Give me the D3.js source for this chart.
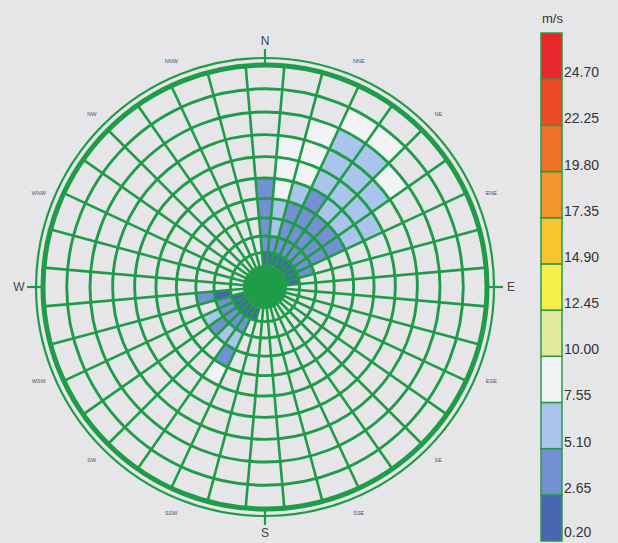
<!DOCTYPE html>
<html>
<head>
<meta charset="utf-8">
<script src="https://cdn.jsdelivr.net/npm/d3@7"></script>
<style>
  body { margin: 0; background: #e8e8ea; }
  svg { display: block; font-family: "Liberation Sans", Arial, sans-serif; }
</style>
</head>
<body>
<div class="rose"></div>
<script>
const speedBreaks = [0.20, 2.65, 5.10, 7.55, 10.00, 12.45, 14.90, 17.35, 19.80, 22.25, 24.70];
const speedColors = ["#4865ae", "#7391d2", "#a9c5eb", "#f2f3f5", "#e1e99c", "#f6ee4b",
                     "#f8c42f", "#f2952b", "#ee7226", "#ea4b26", "#e6272b"];
const majorDirs = ["N", "E", "S", "W"];
const minorDirs = ["NNE", "NE", "ENE", "ESE", "SE", "SSE", "SSW", "SW", "WSW", "WNW", "NW", "NNW"];

// one entry per coloured cell: direction (deg), ring index, mean speed (m/s)
const cellDir = [
  0, 0, 0, 0, 0,
  10, 10, 10, 10, 10, 10, 10,
  20, 20, 20, 20, 20, 20, 20, 20,
  30, 30, 30, 30, 30, 30, 30, 30, 30,
  40, 40, 40, 40, 40, 40, 40, 40, 40,
  50, 50, 50, 50, 50, 50, 50, 50,
  60, 60, 60, 60, 60, 60,
  70, 70, 80,
  200, 210, 210, 210, 210, 210,
  220, 220, 220, 230, 230, 230,
  240, 240, 240, 250, 250, 260, 260
];
const cellRing = [
  0, 1, 2, 3, 4,
  0, 1, 2, 3, 4, 5, 6,
  0, 1, 2, 3, 4, 5, 6, 7,
  0, 1, 2, 3, 4, 5, 6, 7, 8,
  0, 1, 2, 3, 4, 5, 6, 7, 8,
  0, 1, 2, 3, 4, 5, 6, 7,
  0, 1, 2, 3, 4, 5,
  0, 1, 0,
  0, 0, 1, 2, 3, 4,
  0, 1, 2, 0, 1, 2,
  0, 1, 2, 0, 1, 1, 2
];
const cellSpeed = [
  1.8, 3.6, 3.9, 4.2, 4.6,
  2.0, 4.0, 5.6, 6.0, 8.2, 8.5, 8.0,
  2.0, 3.5, 3.8, 4.0, 6.0, 8.2, 8.6, 9.0,
  2.2, 3.6, 4.2, 4.4, 4.8, 6.0, 6.3, 6.5, 8.0,
  2.0, 3.4, 4.0, 4.5, 5.5, 6.2, 6.8, 7.0, 8.0,
  1.8, 3.3, 3.9, 4.3, 5.8, 6.4, 6.6, 8.4,
  1.5, 3.0, 3.6, 4.0, 6.0, 6.2,
  1.2, 2.9, 1.0,
  1.5, 2.0, 3.5, 6.0, 4.0, 8.0,
  2.1, 3.2, 5.5, 2.4, 3.8, 4.0,
  2.0, 3.4, 5.8, 1.6, 2.8, 2.5, 3.0
];

const width = 618, height = 543;
const cx = 265, cy = 287;
const green = "#1f9c48";
const rad = d => d * Math.PI / 180;

const cells = cellDir.map((d, i) => ({dir: d, ring: cellRing[i], speed: cellSpeed[i]}));

const color = d3.scaleThreshold()
  .domain(speedBreaks.slice(1))
  .range(speedColors);

const ringScale = d3.scalePow().exponent(1.2)
  .domain([0, 10])
  .range([22, 222]);

const svg = d3.select(".rose")
  .append("svg")
  .attr("width", width)
  .attr("height", height);

// paper-like background
const paper = svg.append("defs").append("filter")
  .attr("id", "paper")
  .attr("x", 0).attr("y", 0).attr("width", "100%").attr("height", "100%");
paper.append("feTurbulence")
  .attr("type", "fractalNoise")
  .attr("baseFrequency", 0.6)
  .attr("numOctaves", 2)
  .attr("seed", 3);
paper.append("feColorMatrix")
  .attr("type", "matrix")
  .attr("values", "0 0 0 0 0.5  0 0 0 0 0.5  0 0 0 0 0.52  0 0 0 0.12 0");

svg.append("rect")
  .attr("width", width)
  .attr("height", height)
  .attr("fill", "#e9e9eb");
svg.append("rect")
  .attr("width", width)
  .attr("height", height)
  .attr("filter", "url(#paper)");

const g = svg.append("g")
  .attr("transform", "translate(" + cx + "," + cy + ")");

const cellArc = d3.arc()
  .innerRadius(d => ringScale(d.ring))
  .outerRadius(d => ringScale(d.ring + 1))
  .startAngle(d => rad(d.dir - 5))
  .endAngle(d => rad(d.dir + 5));

g.selectAll("path.cell")
  .data(cells)
  .enter()
  .append("path")
  .attr("class", "cell")
  .attr("d", cellArc)
  .attr("fill", d => color(d.speed));

// grid rings
g.selectAll("circle.ring")
  .data(d3.range(1, 10))
  .enter()
  .append("circle")
  .attr("class", "ring")
  .attr("r", d => ringScale(d))
  .attr("fill", "none")
  .attr("stroke", green)
  .attr("stroke-width", 2.9);

// spokes every 10 degrees, offset half a sector
g.selectAll("line.spoke")
  .data(d3.range(36).map(i => i * 10 + 5))
  .enter()
  .append("line")
  .attr("class", "spoke")
  .attr("x1", 0).attr("y1", 0)
  .attr("x2", d => ringScale(10) * Math.sin(rad(d)))
  .attr("y2", d => -ringScale(10) * Math.cos(rad(d)))
  .attr("stroke", green)
  .attr("stroke-width", 2.6);

g.append("circle")
  .attr("r", ringScale(0))
  .attr("fill", green);

g.append("circle")
  .attr("r", ringScale(10))
  .attr("fill", "none")
  .attr("stroke", green)
  .attr("stroke-width", 5);

g.append("circle")
  .attr("r", ringScale(10) + 7)
  .attr("fill", "none")
  .attr("stroke", green)
  .attr("stroke-width", 2.2);

// compass ticks and labels
g.selectAll("line.tick")
  .data(majorDirs)
  .enter()
  .append("line")
  .attr("class", "tick")
  .attr("x1", (d, i) => ringScale(10) * Math.sin(rad(i * 90)))
  .attr("y1", (d, i) => -ringScale(10) * Math.cos(rad(i * 90)))
  .attr("x2", (d, i) => (ringScale(10) + 16) * Math.sin(rad(i * 90)))
  .attr("y2", (d, i) => -(ringScale(10) + 16) * Math.cos(rad(i * 90)))
  .attr("stroke", green)
  .attr("stroke-width", 2.2);

g.selectAll("text.major")
  .data(majorDirs)
  .enter()
  .append("text")
  .attr("class", "major")
  .attr("x", (d, i) => 246 * Math.sin(rad(i * 90)))
  .attr("y", (d, i) => -246 * Math.cos(rad(i * 90)))
  .attr("dy", "0.35em")
  .attr("text-anchor", "middle")
  .attr("font-size", 12)
  .attr("fill", "#444")
  .text(d => d);

const minorAngles = d3.range(16).map(i => i * 22.5).filter(a => a % 90 !== 0);
g.selectAll("text.minor")
  .data(minorDirs)
  .enter()
  .append("text")
  .attr("class", "minor")
  .attr("x", (d, i) => 245 * Math.sin(rad(minorAngles[i])))
  .attr("y", (d, i) => -245 * Math.cos(rad(minorAngles[i])))
  .attr("dy", "0.35em")
  .attr("text-anchor", "middle")
  .attr("font-size", 5.5)
  .attr("fill", "#555")
  .text(d => d);

// colour legend
const legendY = d3.scaleLinear().domain([11, 0]).range([33, 541]);
const legend = svg.append("g");

legend.selectAll("rect")
  .data(speedColors)
  .enter()
  .append("rect")
  .attr("x", 541)
  .attr("y", (d, i) => legendY(i + 1))
  .attr("width", 21)
  .attr("height", (d, i) => legendY(i) - legendY(i + 1))
  .attr("fill", d => d)
  .attr("stroke", "#2a9a4a")
  .attr("stroke-width", 1.5);

legend.selectAll("text.val")
  .data(speedBreaks)
  .enter()
  .append("text")
  .attr("class", "val")
  .attr("x", 564)
  .attr("y", (d, i) => Math.min(legendY(i) - 2, 537))
  .attr("font-size", 14)
  .attr("fill", "#333")
  .text(d => d.toFixed(2));

legend.append("text")
  .attr("x", 542)
  .attr("y", 23)
  .attr("font-size", 13)
  .attr("fill", "#333")
  .text("m/s");
</script>
</body>
</html>
